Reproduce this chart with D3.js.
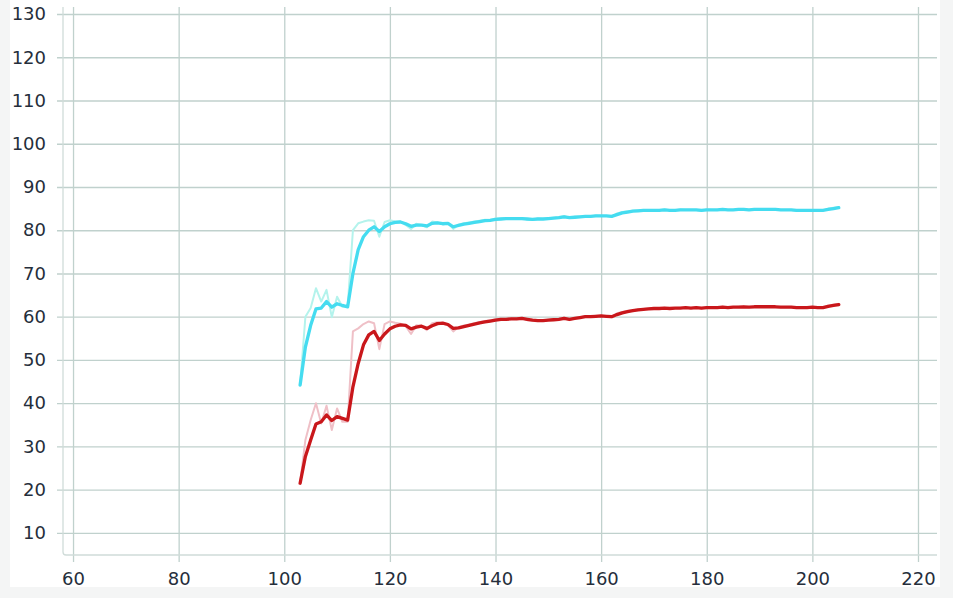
<!DOCTYPE html>
<html>
<head>
<meta charset="utf-8">
<script src="https://cdn.jsdelivr.net/npm/d3@7"></script>
<style>
  html, body { margin: 0; padding: 0; background: #f4f5f5; }
  svg { display: block; }
</style>
</head>
<body>
<svg id="chart" width="953" height="598"></svg>
<script>
const steps = [
103,104,105,106,107,108,109,110,111,112,
113,114,115,116,117,118,119,120,121,122,
123,124,125,126,127,128,129,130,131,132,
133,134,135,136,137,138,139,140,141,142,
143,144,145,146,147,148,149,150,151,152,
153,154,155,156,157,158,159,160,161,162,
163,164,165,166,167,168,169,170,171,172,
173,174,175,176,177,178,179,180,181,182,
183,184,185,186,187,188,189,190,191,192,
193,194,195,196,197,198,199,200,201,202,
203,204,205];

const cyanSmoothed = [
44.2,53.0,58.0,61.8,62.0,63.5,62.2,63.0,62.6,62.3,
70.0,75.5,78.5,80.0,80.8,79.7,80.8,81.5,81.8,81.9,
81.5,80.9,81.2,81.2,81.0,81.6,81.7,81.5,81.6,80.8,
81.1,81.4,81.6,81.8,82.0,82.2,82.3,82.5,82.6,82.7,
82.7,82.7,82.7,82.6,82.5,82.6,82.6,82.7,82.8,82.9,
83.1,82.9,83.0,83.1,83.2,83.2,83.3,83.3,83.3,83.2,
83.6,84.0,84.2,84.4,84.5,84.6,84.6,84.6,84.6,84.7,
84.6,84.6,84.7,84.7,84.7,84.7,84.6,84.7,84.7,84.7,
84.8,84.7,84.7,84.8,84.8,84.7,84.8,84.8,84.8,84.8,
84.8,84.7,84.7,84.7,84.6,84.6,84.6,84.6,84.6,84.6,
84.8,85.0,85.2];

const cyanRaw = [
44.2,60.0,62.0,66.6,63.5,66.2,59.9,64.6,62.3,62.3,
80.0,81.6,82.0,82.3,82.2,78.5,81.9,82.3,82.0,82.0,
81.2,80.3,81.5,81.2,80.7,82.0,81.8,81.4,81.7,80.3,
81.3,81.6,81.8,82.0,82.2,82.4,82.4,82.7,82.7,82.8,
82.7,82.7,82.8,82.5,82.4,82.7,82.6,82.8,82.9,83.0,
83.3,82.8,83.1,83.2,83.3,83.2,83.4,83.3,83.3,83.1,
83.9,84.2,84.4,84.5,84.6,84.7,84.6,84.6,84.6,84.8,
84.6,84.6,84.8,84.7,84.7,84.7,84.5,84.8,84.7,84.7,
84.9,84.7,84.7,84.9,84.8,84.7,84.9,84.8,84.8,84.8,
84.8,84.7,84.7,84.7,84.5,84.6,84.6,84.6,84.6,84.6,
85.0,85.2,85.4];

const redSmoothed = [
21.5,27.7,31.5,35.2,35.7,37.3,36.0,36.9,36.5,36.1,
43.8,49.2,53.5,55.8,56.6,54.5,56.0,57.2,57.8,58.1,
58.0,57.2,57.6,57.8,57.3,57.9,58.4,58.5,58.2,57.3,
57.4,57.7,58.0,58.3,58.6,58.8,59.0,59.2,59.4,59.4,
59.5,59.5,59.6,59.4,59.2,59.1,59.1,59.2,59.3,59.4,
59.6,59.4,59.6,59.8,60.0,60.0,60.1,60.2,60.1,60.0,
60.5,60.9,61.2,61.4,61.6,61.7,61.8,61.9,61.9,62.0,
61.9,62.0,62.0,62.1,62.0,62.1,62.0,62.1,62.1,62.1,
62.2,62.1,62.2,62.2,62.3,62.2,62.3,62.3,62.3,62.3,
62.3,62.2,62.2,62.2,62.1,62.1,62.1,62.2,62.1,62.1,
62.4,62.6,62.8];

const redRaw = [
21.5,31.5,36.1,40.0,35.3,39.4,33.8,38.8,35.7,35.7,
56.6,57.3,58.3,58.9,58.5,52.5,58.3,58.9,58.6,58.4,
57.8,56.0,58.0,57.9,56.9,58.5,58.7,58.4,58.0,56.6,
57.6,58.0,58.2,58.5,58.8,59.0,59.2,59.4,59.5,59.4,
59.6,59.5,59.7,59.2,59.1,59.1,59.1,59.3,59.4,59.5,
59.8,59.2,59.7,59.9,60.1,60.0,60.2,60.2,60.0,59.9,
60.8,61.1,61.4,61.5,61.7,61.8,61.9,62.0,61.9,62.1,
61.8,62.0,62.1,62.1,62.0,62.2,61.9,62.2,62.1,62.1,
62.3,62.1,62.2,62.3,62.3,62.2,62.4,62.3,62.3,62.3,
62.3,62.2,62.2,62.2,62.0,62.1,62.1,62.2,62.1,62.1,
62.6,62.8,63.0];

const xTicks = [60, 80, 100, 120, 140, 160, 180, 200, 220];
const yTicks = [10, 20, 30, 40, 50, 60, 70, 80, 90, 100, 110, 120, 130];

const svg = d3.select("#chart");

// white panel
svg.append("rect").attr("x", 10).attr("y", 0).attr("width", 930).attr("height", 587).attr("fill", "#ffffff");

const plotL = 63, plotR = 937, plotT = 7, plotB = 555;
const x = d3.scaleLinear().domain([58.1, 223.6]).range([plotL, plotR]);
const y = d3.scaleLinear().domain([4.9, 131.62]).range([plotB, plotT]);

const gridColor = "#c0d1cd";
const textColor = "#252e3b";
const font = "DejaVu Sans, sans-serif";

// Y axis with gridlines
const yAxis = svg.append("g")
  .attr("transform", `translate(57,0)`)
  .call(d3.axisLeft(y).tickValues(yTicks).tickSize(-(plotR - 57)).tickPadding(11));
yAxis.select(".domain").remove();
yAxis.selectAll(".tick line").attr("stroke", gridColor).attr("stroke-width", 1.3);
yAxis.selectAll(".tick text").attr("fill", textColor).style("font-family", font).style("font-size", "18px");

// X axis with gridlines
const xAxis = svg.append("g")
  .attr("transform", `translate(0,562)`)
  .call(d3.axisBottom(x).tickValues(xTicks).tickSize(-(562 - plotT)).tickPadding(10));
xAxis.select(".domain").remove();
xAxis.selectAll(".tick line").attr("stroke", gridColor).attr("stroke-width", 1.3);
xAxis.selectAll(".tick text").attr("fill", textColor).style("font-family", font).style("font-size", "18px");

// frame (left + bottom)
svg.append("path")
  .attr("d", `M${plotL},${plotT} L${plotL},${plotB - 3} Q${plotL},${plotB} ${plotL + 3},${plotB} L${plotR},${plotB}`)
  .attr("fill", "none").attr("stroke", "#d0dcd9").attr("stroke-width", 1.3);

const mk = vals => d3.line().x((d, i) => x(steps[i])).y(d => y(d))(vals);

const series = [
  { raw: cyanRaw, sm: cyanSmoothed, rawColor: "#b4f3ec", color: "#45dcf0" },
  { raw: redRaw, sm: redSmoothed, rawColor: "#efc0c7", color: "#c9171b" }
];

series.forEach(s => {
  svg.append("path").attr("d", mk(s.raw)).attr("fill", "none")
    .attr("stroke", s.rawColor).attr("stroke-width", 2).attr("stroke-linejoin", "round");
});
series.forEach(s => {
  svg.append("path").attr("d", mk(s.sm)).attr("fill", "none")
    .attr("stroke", s.color).attr("stroke-width", 3.3).attr("stroke-linejoin", "round").attr("stroke-linecap", "round");
});
</script>
</body>
</html>
